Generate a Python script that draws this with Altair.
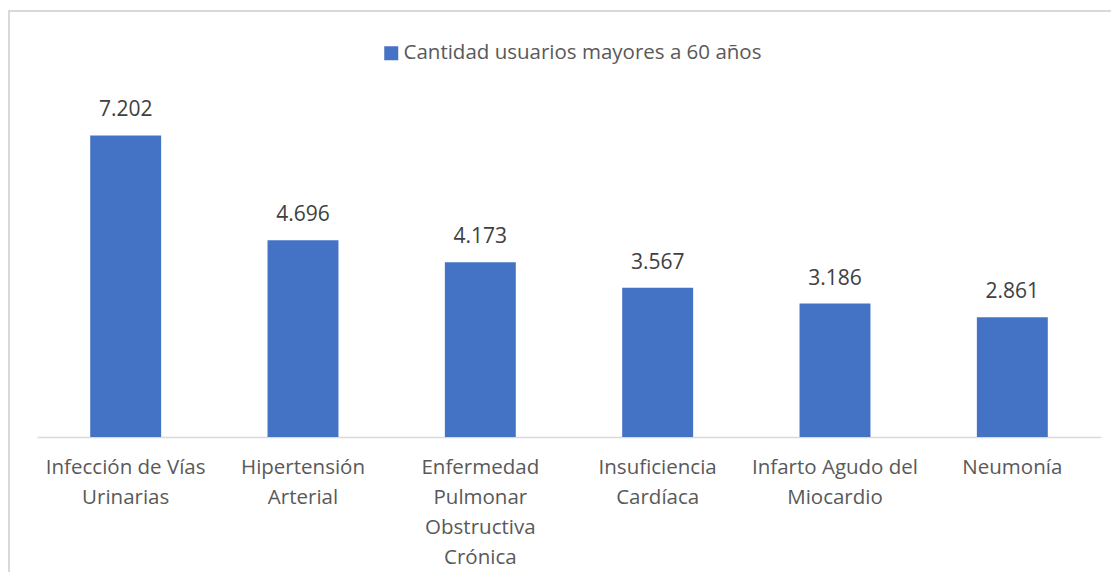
import altair as alt
import pandas as pd

categorias = [
    "Infección de Vías\nUrinarias",
    "Hipertensión\nArterial",
    "Enfermedad\nPulmonar\nObstructiva\nCrónica",
    "Insuficiencia\nCardíaca",
    "Infarto Agudo del\nMiocardio",
    "Neumonía",
]
valores = [7202, 4696, 4173, 3567, 3186, 2861]
serie = "Cantidad usuarios mayores a 60 años"

df = pd.DataFrame({"cat": categorias, "valor": valores, "serie": [serie] * len(valores)})

FONT = "Open Sans"
W, H = 1064, 335

x = alt.X(
    "cat:N",
    sort=categorias,
    scale=alt.Scale(paddingInner=0.6, paddingOuter=0.3),
    axis=alt.Axis(
        title=None,
        labelAngle=0,
        labelExpr="split(datum.label, '\\n')",
        labelFont=FONT,
        labelFontSize=20.5,
        labelColor="#595959",
        labelLineHeight=30,
        labelPadding=20,
        labelBaseline="top",
        labelLimit=400,
        ticks=False,
        domainColor="#d9d9d9",
        domainWidth=1.5,
        grid=False,
    ),
)
y = alt.Y("valor:Q", scale=alt.Scale(domain=[0, 8000]), axis=None)

bars = alt.Chart(df).mark_bar(color="#4472c4").encode(
    x=x,
    y=y,
    color=alt.Color(
        "serie:N",
        scale=alt.Scale(range=["#4472c4"]),
        legend=alt.Legend(
            title=None,
            orient="none",
            legendX=344,
            legendY=-59,
            symbolType="square",
            symbolSize=196,
            symbolStrokeWidth=0,
            labelFont=FONT,
            labelFontSize=20.5,
            labelColor="#595959",
            labelOffset=2,
            labelLimit=600,
            padding=0,
        ),
    ),
)

labels = alt.Chart(df).transform_calculate(
    etiqueta="replace(format(datum.valor, ','), ',', '.')"
).mark_text(
    font=FONT, fontSize=21, color="#404040", baseline="alphabetic", dy=-19
).encode(x=alt.X("cat:N", sort=categorias), y="valor:Q", text="etiqueta:N")

border_left = alt.Chart(df).mark_rule(color="#d9d9d9", strokeWidth=2).encode(
    x=alt.value(-28), y=alt.value(-91), y2=alt.value(H + 160)
)
border_top = alt.Chart(df).mark_rule(color="#d9d9d9", strokeWidth=2).encode(
    x=alt.value(-29), x2=alt.value(W + 40), y=alt.value(-91)
)

chart = (
    alt.layer(border_left, border_top, bars, labels)
    .properties(
        width=W,
        height=H,
        autosize=alt.AutoSizeParams(type="none"),
        padding={"left": 29, "top": 94, "right": 10, "bottom": 135},
    )
    .configure_view(stroke=None)
)

chart.save("out.html", embed_options={"renderer": "svg", "actions": False})
